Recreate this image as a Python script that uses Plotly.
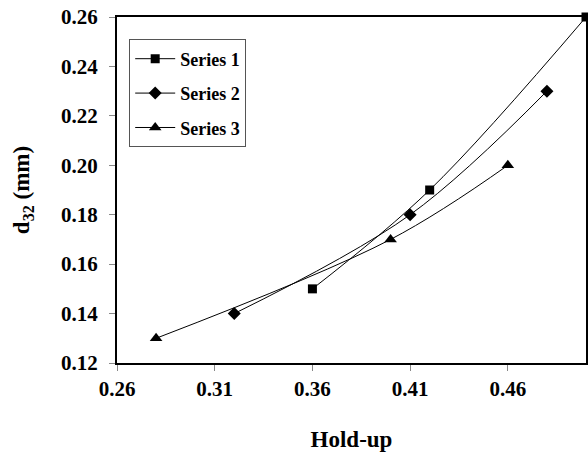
import plotly.graph_objects as go

s1_x = [0.36, 0.42, 0.50]
s1_y = [0.15, 0.19, 0.26]
s2_x = [0.32, 0.41, 0.48]
s2_y = [0.14, 0.18, 0.23]
s3_x = [0.28, 0.40, 0.46]
s3_y = [0.13, 0.17, 0.20]

x_ticks = [0.26, 0.31, 0.36, 0.41, 0.46]
y_ticks = [0.12, 0.14, 0.16, 0.18, 0.20, 0.22, 0.24, 0.26]

font_family = "Liberation Serif, Times New Roman, serif"

fig = go.Figure()
series = [
    ("Series 1", s1_x, s1_y, "square", 9),
    ("Series 2", s2_x, s2_y, "diamond", 10),
    ("Series 3", s3_x, s3_y, "triangle-up", 11),
]
for i, (name, xs, ys, sym, sz) in enumerate(series):
    fig.add_trace(go.Scatter(
        x=xs, y=ys, name=name, mode="lines+markers",
        line=dict(color="black", width=1, shape="spline", smoothing=1.0),
        marker=dict(symbol=sym, size=sz, color="black"),
        legendgroup=f"g{i}", cliponaxis=False,
    ))

fig.update_layout(
    width=588, height=452,
    margin=dict(l=117, r=2, t=17, b=89),
    paper_bgcolor="white", plot_bgcolor="white",
    font=dict(family=font_family, color="black", size=21),
    showlegend=True,
    legend=dict(
        x=0.026, y=0.935, xanchor="left", yanchor="top",
        bordercolor="#555", borderwidth=1, bgcolor="white",
        font=dict(family=font_family, size=18, color="black", weight="bold"),
        tracegroupgap=8, itemwidth=40,
    ),
    xaxis=dict(
        range=[0.26, 0.50], tickvals=x_ticks,
        ticktext=[f"<b>{v:.2f}</b>" for v in x_ticks],
        showgrid=False, zeroline=False, automargin=False,
        showline=True, linecolor="black", linewidth=2, mirror=True,
        ticks="outside", ticklen=6, tickcolor="#888", tickwidth=1,
        ticklabelstandoff=0,
        title=dict(text="<b>Hold-up</b>", standoff=34, font=dict(size=23)),
    ),
    yaxis=dict(
        range=[0.12, 0.26], tickvals=y_ticks,
        ticktext=[f"<b>{v:.2f}</b>" for v in y_ticks],
        showgrid=False, zeroline=False, automargin=False,
        showline=True, linecolor="black", linewidth=2, mirror=True,
        ticks="outside", ticklen=6, tickcolor="#888", tickwidth=1,
        ticklabelstandoff=7,
        title=dict(text="<b>d<sub>32</sub> (mm)</b>", standoff=25, font=dict(size=23)),
    ),
)

fig.write_html(
    "out.html",
    config={"displayModeBar": False},
    post_script="document.body.style.margin='0';document.body.style.overflow='hidden';",
)
